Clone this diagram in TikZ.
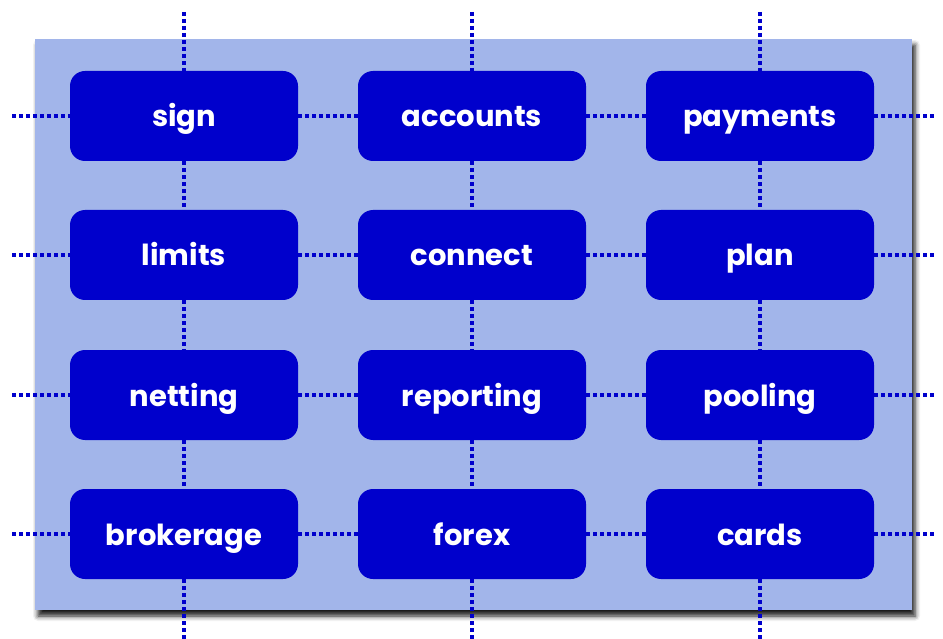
\documentclass[tikz,border=0pt]{standalone}
\usepackage{fontspec}
\setmainfont{Poppins}
\usetikzlibrary{shadows.blur}
\definecolor{nodeblue}{HTML}{0000CC}
\definecolor{panelblue}{HTML}{A2B5EA}
\begin{document}
\begin{tikzpicture}[x=1pt,y=-1pt,
  box/.style={draw=none,fill=nodeblue,rounded corners=15pt,minimum width=228pt,minimum height=90pt,
    text=white,font=\fontsize{29}{34}\selectfont\bfseries,inner sep=0pt,text height=22pt,text depth=0pt},
  dotline/.style={draw=nodeblue,line width=4pt,dash pattern=on 4pt off 3pt}]
\useasboundingbox (0,0) rectangle (943,639);
\fill[panelblue,blur shadow={shadow xshift=3pt,shadow yshift=-6pt,shadow blur radius=5pt,shadow opacity=90}] (35,39) rectangle (912,610);
\node[box] (sign) at (184,116) {sign};
\node[box] (accounts) at (472,116) {accounts};
\node[box] (payments) at (760,116) {payments};
\node[box] (limits) at (184,255) {limits};
\node[box] (connect) at (472,255) {connect};
\node[box] (plan) at (760,255) {plan};
\node[box] (netting) at (184,395) {netting};
\node[box] (reporting) at (472,395) {reporting};
\node[box] (pooling) at (760,395) {pooling};
\node[box] (brokerage) at (184,534) {brokerage};
\node[box] (forex) at (472,534) {forex};
\node[box] (cards) at (760,534) {cards};
% free ends
\coordinate (t1) at (184,12); \coordinate (t2) at (472,12); \coordinate (t3) at (760,12);
\coordinate (b1) at (184,639); \coordinate (b2) at (472,639); \coordinate (b3) at (760,639);
\coordinate (l1) at (12,116); \coordinate (l2) at (12,255); \coordinate (l3) at (12,395); \coordinate (l4) at (12,534);
\coordinate (r1) at (934,116); \coordinate (r2) at (934,255); \coordinate (r3) at (934,395); \coordinate (r4) at (934,534);
% vertical
\draw[dotline] (t1) -- (sign); \draw[dotline] (sign) -- (limits); \draw[dotline] (limits) -- (netting); \draw[dotline] (netting) -- (brokerage); \draw[dotline] (brokerage) -- (b1);
\draw[dotline] (t2) -- (accounts); \draw[dotline] (accounts) -- (connect); \draw[dotline] (connect) -- (reporting); \draw[dotline] (reporting) -- (forex); \draw[dotline] (forex) -- (b2);
\draw[dotline] (t3) -- (payments); \draw[dotline] (payments) -- (plan); \draw[dotline] (plan) -- (pooling); \draw[dotline] (pooling) -- (cards); \draw[dotline] (cards) -- (b3);
% horizontal
\draw[dotline] (l1) -- (sign); \draw[dotline] (sign) -- (accounts); \draw[dotline] (accounts) -- (payments); \draw[dotline] (payments) -- (r1);
\draw[dotline] (l2) -- (limits); \draw[dotline] (limits) -- (connect); \draw[dotline] (connect) -- (plan); \draw[dotline] (plan) -- (r2);
\draw[dotline] (l3) -- (netting); \draw[dotline] (netting) -- (reporting); \draw[dotline] (reporting) -- (pooling); \draw[dotline] (pooling) -- (r3);
\draw[dotline] (l4) -- (brokerage); \draw[dotline] (brokerage) -- (forex); \draw[dotline] (forex) -- (cards); \draw[dotline] (cards) -- (r4);
\end{tikzpicture}
\end{document}
